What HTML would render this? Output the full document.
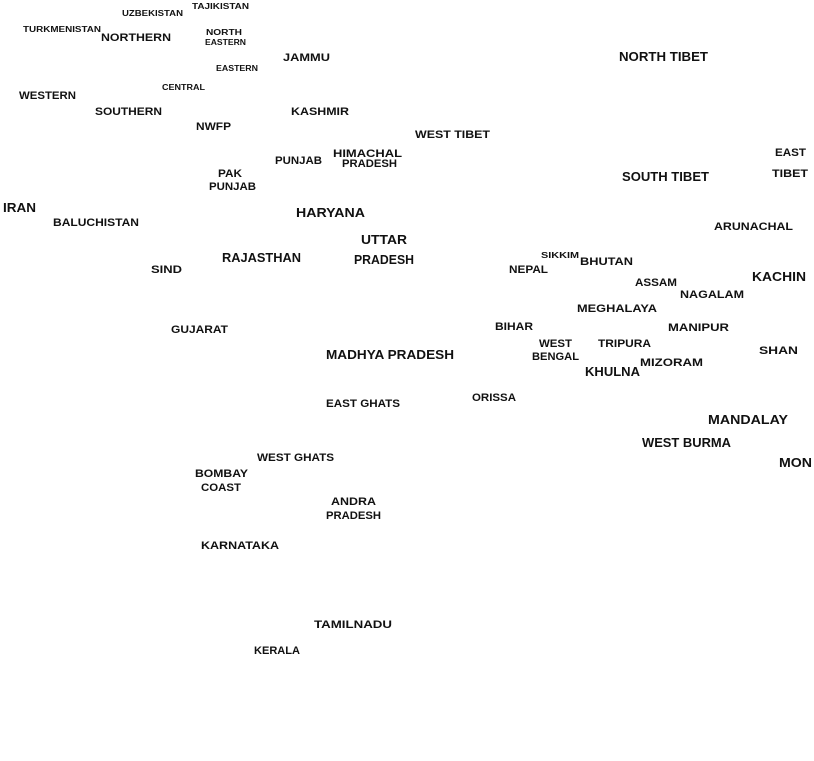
<!DOCTYPE html>
<html><head><meta charset="utf-8"><style>
html,body{margin:0;padding:0;background:#fff;width:814px;height:761px;overflow:hidden}
text{font-family:"Liberation Sans",sans-serif;font-weight:bold;fill:#111}
.s{font-size:8px}.m{font-size:11px}.l{font-size:12.5px}
</style></head><body>
<svg width="814" height="761" xmlns="http://www.w3.org/2000/svg">
<g lengthAdjust="spacingAndGlyphs">
<text class="s" x="192" y="9" textLength="57" lengthAdjust="spacingAndGlyphs">TAJIKISTAN</text>
<text class="s" x="122" y="16" textLength="61" lengthAdjust="spacingAndGlyphs">UZBEKISTAN</text>
<text class="s" x="23" y="32" textLength="78" lengthAdjust="spacingAndGlyphs">TURKMENISTAN</text>
<text class="m" x="101" y="41" textLength="70" lengthAdjust="spacingAndGlyphs">NORTHERN</text>
<text class="s" x="206" y="35" textLength="36" lengthAdjust="spacingAndGlyphs">NORTH</text>
<text class="s" x="205" y="45" textLength="41" lengthAdjust="spacingAndGlyphs">EASTERN</text>
<text class="m" x="283" y="61" textLength="47" lengthAdjust="spacingAndGlyphs">JAMMU</text>
<text class="s" x="216" y="71" textLength="42" lengthAdjust="spacingAndGlyphs">EASTERN</text>
<text class="s" x="162" y="90" textLength="43" lengthAdjust="spacingAndGlyphs">CENTRAL</text>
<text class="m" x="19" y="99" textLength="57" lengthAdjust="spacingAndGlyphs">WESTERN</text>
<text class="m" x="95" y="115" textLength="67" lengthAdjust="spacingAndGlyphs">SOUTHERN</text>
<text class="m" x="291" y="115" textLength="58" lengthAdjust="spacingAndGlyphs">KASHMIR</text>
<text class="m" x="196" y="130" textLength="35" lengthAdjust="spacingAndGlyphs">NWFP</text>
<text class="m" x="415" y="138" textLength="75" lengthAdjust="spacingAndGlyphs">WEST TIBET</text>
<text class="l" x="619" y="61" textLength="89" lengthAdjust="spacingAndGlyphs">NORTH TIBET</text>
<text class="m" x="333" y="157" textLength="69" lengthAdjust="spacingAndGlyphs">HIMACHAL</text>
<text class="m" x="342" y="167" textLength="55" lengthAdjust="spacingAndGlyphs">PRADESH</text>
<text class="m" x="275" y="164" textLength="47" lengthAdjust="spacingAndGlyphs">PUNJAB</text>
<text class="m" x="775" y="156" textLength="31" lengthAdjust="spacingAndGlyphs">EAST</text>
<text class="m" x="772" y="177" textLength="36" lengthAdjust="spacingAndGlyphs">TIBET</text>
<text class="l" x="622" y="181" textLength="87" lengthAdjust="spacingAndGlyphs">SOUTH TIBET</text>
<text class="m" x="218" y="177" textLength="24" lengthAdjust="spacingAndGlyphs">PAK</text>
<text class="m" x="209" y="190" textLength="47" lengthAdjust="spacingAndGlyphs">PUNJAB</text>
<text class="l" x="3" y="212" textLength="33" lengthAdjust="spacingAndGlyphs">IRAN</text>
<text class="m" x="53" y="226" textLength="86" lengthAdjust="spacingAndGlyphs">BALUCHISTAN</text>
<text class="l" x="296" y="217" textLength="69" lengthAdjust="spacingAndGlyphs">HARYANA</text>
<text class="m" x="714" y="230" textLength="79" lengthAdjust="spacingAndGlyphs">ARUNACHAL</text>
<text class="l" x="361" y="244" textLength="46" lengthAdjust="spacingAndGlyphs">UTTAR</text>
<text class="s" x="541" y="258" textLength="38" lengthAdjust="spacingAndGlyphs">SIKKIM</text>
<text class="m" x="580" y="265" textLength="53" lengthAdjust="spacingAndGlyphs">BHUTAN</text>
<text class="l" x="222" y="262" textLength="79" lengthAdjust="spacingAndGlyphs">RAJASTHAN</text>
<text class="l" x="354" y="264" textLength="60" lengthAdjust="spacingAndGlyphs">PRADESH</text>
<text class="m" x="509" y="273" textLength="39" lengthAdjust="spacingAndGlyphs">NEPAL</text>
<text class="m" x="151" y="273" textLength="31" lengthAdjust="spacingAndGlyphs">SIND</text>
<text class="m" x="635" y="286" textLength="42" lengthAdjust="spacingAndGlyphs">ASSAM</text>
<text class="l" x="752" y="281" textLength="54" lengthAdjust="spacingAndGlyphs">KACHIN</text>
<text class="m" x="680" y="298" textLength="64" lengthAdjust="spacingAndGlyphs">NAGALAM</text>
<text class="m" x="577" y="312" textLength="80" lengthAdjust="spacingAndGlyphs">MEGHALAYA</text>
<text class="m" x="171" y="333" textLength="57" lengthAdjust="spacingAndGlyphs">GUJARAT</text>
<text class="m" x="495" y="330" textLength="38" lengthAdjust="spacingAndGlyphs">BIHAR</text>
<text class="m" x="668" y="331" textLength="61" lengthAdjust="spacingAndGlyphs">MANIPUR</text>
<text class="m" x="539" y="347" textLength="33" lengthAdjust="spacingAndGlyphs">WEST</text>
<text class="m" x="532" y="360" textLength="47" lengthAdjust="spacingAndGlyphs">BENGAL</text>
<text class="m" x="598" y="347" textLength="53" lengthAdjust="spacingAndGlyphs">TRIPURA</text>
<text class="l" x="326" y="359" textLength="128" lengthAdjust="spacingAndGlyphs">MADHYA PRADESH</text>
<text class="m" x="759" y="354" textLength="39" lengthAdjust="spacingAndGlyphs">SHAN</text>
<text class="m" x="640" y="366" textLength="63" lengthAdjust="spacingAndGlyphs">MIZORAM</text>
<text class="l" x="585" y="376" textLength="55" lengthAdjust="spacingAndGlyphs">KHULNA</text>
<text class="m" x="472" y="401" textLength="44" lengthAdjust="spacingAndGlyphs">ORISSA</text>
<text class="m" x="326" y="407" textLength="74" lengthAdjust="spacingAndGlyphs">EAST GHATS</text>
<text class="l" x="708" y="424" textLength="80" lengthAdjust="spacingAndGlyphs">MANDALAY</text>
<text class="l" x="642" y="447" textLength="89" lengthAdjust="spacingAndGlyphs">WEST BURMA</text>
<text class="l" x="779" y="467" textLength="33" lengthAdjust="spacingAndGlyphs">MON</text>
<text class="m" x="257" y="461" textLength="77" lengthAdjust="spacingAndGlyphs">WEST GHATS</text>
<text class="m" x="195" y="477" textLength="53" lengthAdjust="spacingAndGlyphs">BOMBAY</text>
<text class="m" x="201" y="491" textLength="40" lengthAdjust="spacingAndGlyphs">COAST</text>
<text class="m" x="331" y="505" textLength="45" lengthAdjust="spacingAndGlyphs">ANDRA</text>
<text class="m" x="326" y="519" textLength="55" lengthAdjust="spacingAndGlyphs">PRADESH</text>
<text class="m" x="201" y="549" textLength="78" lengthAdjust="spacingAndGlyphs">KARNATAKA</text>
<text class="m" x="314" y="628" textLength="78" lengthAdjust="spacingAndGlyphs">TAMILNADU</text>
<text class="m" x="254" y="654" textLength="46" lengthAdjust="spacingAndGlyphs">KERALA</text>
</g>
</svg>
</body></html>
